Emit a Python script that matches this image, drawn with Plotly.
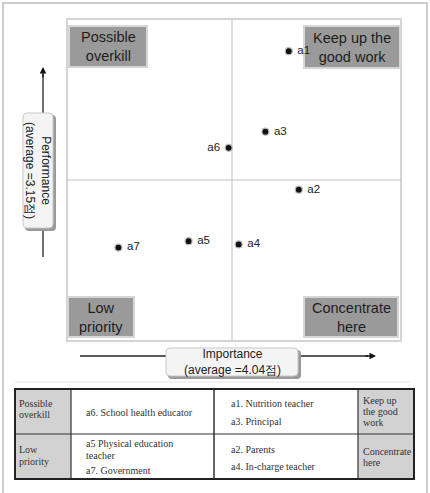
import plotly.graph_objects as go

# ---- data ----
codes = ["a1", "a2", "a3", "a4", "a5", "a6", "a7"]
importance = [4.21, 4.24, 4.14, 4.06, 3.91, 4.03, 3.70]
performance = [3.55, 3.12, 3.30, 2.95, 2.96, 3.25, 2.94]
label_pos = ["middle right", "middle right", "middle right", "middle right",
             "middle right", "middle left", "middle right"]
mean_importance = 4.04
mean_performance = 3.15
quadrants = ["Possible<br>overkill", "Keep up the<br>good work", "Low<br>priority", "Concentrate<br>here"]
table_rows = [
    [["Possible", "overkill"], ["a6. School health educator"],
     ["a1. Nutrition teacher", "a3. Principal"], ["Keep up", "the good", "work"]],
    [["Low", "priority"], ["a5 Physical education", "teacher", "a7. Government"],
     ["a2. Parents", "a4. In-charge teacher"], ["Concentrate", "here"]],
]

W, H = 430, 493
def px(x): return x / W
def py(y): return 1 - y / H

fig = go.Figure()
fig.add_trace(go.Scatter(
    x=importance, y=performance, mode="markers+text",
    text=[" " + c + " " for c in codes], textposition=label_pos,
    textfont=dict(family="Liberation Sans, Arial", size=11.5, color="#222"),
    marker=dict(size=7, color="#111", line=dict(color="#bbb", width=1.2)),
    cliponaxis=False, hoverinfo="skip"))

shapes = []
ann = []
# page frame
shapes.append(dict(type="path", xref="paper", yref="paper",
                   path=f"M {px(3)} {py(493)} L {px(3)} {py(3)} L {px(427)} {py(3)} L {px(427)} {py(493)}",
                   line=dict(color="#bdbdbd", width=1.5)))
# plot border
shapes.append(dict(type="rect", xref="paper", yref="paper", x0=px(67), x1=px(401), y0=py(341), y1=py(19),
                   line=dict(color="#d4d4d4", width=2), layer="below"))
# dividers
shapes.append(dict(type="line", xref="x", yref="y domain", x0=mean_importance, x1=mean_importance, y0=0, y1=1,
                   line=dict(color="#bfbfbf", width=1), layer="below"))
shapes.append(dict(type="line", xref="x domain", yref="y", x0=0, x1=1, y0=mean_performance, y1=mean_performance,
                   line=dict(color="#bfbfbf", width=1), layer="below"))
# quadrant boxes
qboxes = [(69, 147, 26, 67), (304, 400, 26, 68), (68, 134, 297, 337), (304, 398, 297, 337)]
for (x0, x1, y0, y1), txt in zip(qboxes, quadrants):
    shapes.append(dict(type="rect", xref="paper", yref="paper", x0=px(x0), x1=px(x1), y0=py(y1), y1=py(y0),
                       fillcolor="#9a9a9a", line=dict(color="#d6d6d6", width=2), layer="below"))
    ann.append(dict(xref="paper", yref="paper", x=px((x0 + x1) / 2), y=py((y0 + y1) / 2), text=txt,
                    showarrow=False, font=dict(family="Liberation Sans, Arial", size=14.5, color="#1e1e1e"),
                    xanchor="center", yanchor="middle"))

def rounded(x0, x1, y0, y1, r):
    # pixel coords, y downwards
    return (f"M {px(x0 + r)} {py(y0)} L {px(x1 - r)} {py(y0)} Q {px(x1)} {py(y0)} {px(x1)} {py(y0 + r)} "
            f"L {px(x1)} {py(y1 - r)} Q {px(x1)} {py(y1)} {px(x1 - r)} {py(y1)} "
            f"L {px(x0 + r)} {py(y1)} Q {px(x0)} {py(y1)} {px(x0)} {py(y1 - r)} "
            f"L {px(x0)} {py(y0 + r)} Q {px(x0)} {py(y0)} {px(x0 + r)} {py(y0)} Z")

# y arrow
shapes.append(dict(type="line", xref="paper", yref="paper", x0=px(43), x1=px(43), y0=py(257), y1=py(74),
                   line=dict(color="#222", width=1.3)))
ann.append(dict(xref="paper", yref="paper", x=px(43), y=py(67), ax=0, ay=12,
                showarrow=True, arrowhead=2, arrowsize=1, arrowwidth=1.3, arrowcolor="#111", text=""))
# y title box
shapes.append(dict(type="path", xref="paper", yref="paper", path=rounded(25, 56, 115, 231, 4),
                   fillcolor="#9a9a9a", line=dict(width=0)))
shapes.append(dict(type="path", xref="paper", yref="paper", path=rounded(23, 53, 113, 228, 4),
                   fillcolor="#f4f4f4", line=dict(color="#c8c8c8", width=1)))
ann.append(dict(xref="paper", yref="paper", x=px(38), y=py(170),
                text="Performance<br>(average =3.15점)", textangle=90, showarrow=False,
                font=dict(family="Liberation Sans, Arial", size=12, color="#222"),
                xanchor="center", yanchor="middle"))
# x arrow
shapes.append(dict(type="line", xref="paper", yref="paper", x0=px(80), x1=px(368), y0=py(356), y1=py(356),
                   line=dict(color="#222", width=1.3)))
ann.append(dict(xref="paper", yref="paper", x=px(376), y=py(356), ax=-12, ay=0,
                showarrow=True, arrowhead=2, arrowsize=1, arrowwidth=1.3, arrowcolor="#111", text=""))
shapes.append(dict(type="path", xref="paper", yref="paper", path=rounded(168, 301, 350, 379, 4),
                   fillcolor="#9a9a9a", line=dict(width=0)))
shapes.append(dict(type="path", xref="paper", yref="paper", path=rounded(166, 298, 348, 376, 4),
                   fillcolor="#f4f4f4", line=dict(color="#c8c8c8", width=1)))
ann.append(dict(xref="paper", yref="paper", x=px(232), y=py(362),
                text="Importance<br>(average =4.04점)", showarrow=False,
                font=dict(family="Liberation Sans, Arial", size=12, color="#222"),
                xanchor="center", yanchor="middle"))

# table
shapes.append(dict(type="line", xref="paper", yref="paper", x0=px(15), x1=px(410), y0=py(382), y1=py(382),
                   line=dict(color="#e6e6e6", width=1)))
cols = [15, 71, 214, 358, 414]
rows = [389, 434, 479]
for r in range(2):
    for c in (0, 3):
        shapes.append(dict(type="rect", xref="paper", yref="paper", x0=px(cols[c]), x1=px(cols[c + 1]),
                           y0=py(rows[r + 1]), y1=py(rows[r]), fillcolor="#d2d2d2", line=dict(width=0)))
shapes.append(dict(type="line", xref="paper", yref="paper", x0=px(15), x1=px(414), y0=py(434), y1=py(434),
                   line=dict(color="#333", width=1.2)))
for c in cols[1:4]:
    shapes.append(dict(type="line", xref="paper", yref="paper", x0=px(c), x1=px(c), y0=py(479), y1=py(389),
                       line=dict(color="#333", width=1.2 if c != 214 else 1.5)))
shapes.append(dict(type="rect", xref="paper", yref="paper", x0=px(15), x1=px(414), y0=py(479), y1=py(389),
                   line=dict(color="#222", width=2)))
text_x = [18, 85, 230, 362]
# vertical pixel positions of each line of text in each cell
line_y = [
    [[403, 414], [412], [403, 421], [400, 411, 422]],
    [[449, 461], [443, 455, 470], [449, 466], [451, 462]],
]
for r, row in enumerate(table_rows):
    for c, lines in enumerate(row):
        for txt, yy in zip(lines, line_y[r][c]):
            ann.append(dict(xref="paper", yref="paper", x=px(text_x[c]), y=py(yy), text=txt, showarrow=False,
                            align="left", xanchor="left", yanchor="middle", borderpad=0,
                            font=dict(family="Liberation Serif, DejaVu Serif", size=10, color="#333")))

fig.update_layout(
    width=W, height=H, margin=dict(l=0, r=0, t=0, b=0),
    paper_bgcolor="white", plot_bgcolor="white", showlegend=False,
    xaxis=dict(domain=[px(67), px(401)], range=[3.546, 4.546], showgrid=False, zeroline=False,
               showticklabels=False, ticks=""),
    yaxis=dict(domain=[py(341), py(19)], range=[2.65, 3.65], showgrid=False, zeroline=False,
               showticklabels=False, ticks=""),
    shapes=shapes, annotations=ann)

fig.write_html("out.html")
